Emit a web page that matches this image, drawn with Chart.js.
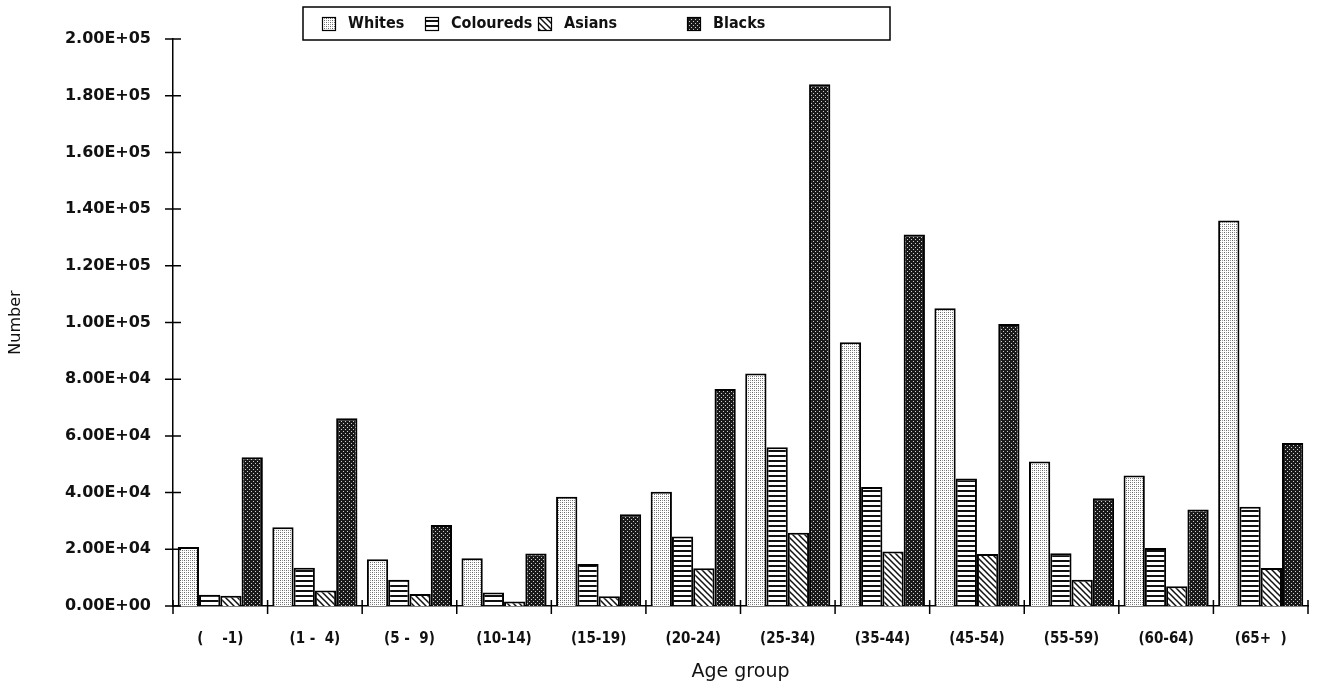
<!DOCTYPE html>
<html>
<head>
<meta charset="utf-8">
<script src="https://cdn.jsdelivr.net/npm/chart.js@4/dist/chart.umd.min.js"></script>
<style>
  body { margin: 0; background: #fff; }
  canvas { display: block; }
</style>
</head>
<body>
<canvas id="chart" width="1317" height="689"></canvas>
<script>
const ageGroups = ['(    -1)', '(1 -  4)', '(5 -  9)', '(10-14)', '(15-19)', '(20-24)', '(25-34)', '(35-44)', '(45-54)', '(55-59)', '(60-64)', '(65+  )'];
const whites    = [20800, 27800, 16500, 16800, 38500, 40300, 82000, 93000, 105000, 51000, 46000, 136000];
const coloureds = [4000, 13500, 9300, 4800, 14800, 24500, 56000, 42000, 45000, 18600, 20500, 35000];
const asians    = [3600, 5500, 4200, 1600, 3400, 13300, 25800, 19200, 18300, 9300, 7000, 13400];
const blacks    = [52500, 66200, 28600, 18500, 32400, 76500, 184000, 131000, 99500, 38000, 34000, 57500];
const yMax = 200000;
const yStep = 20000;

const ctx = document.getElementById('chart').getContext('2d');
const fontFamily = '"DejaVu Sans", sans-serif';
const condFamily = '"DejaVu Sans Condensed", "DejaVu Sans", sans-serif';

// fill patterns that imitate the old black & white hatching
const makePattern = (size, draw) => {
    const c = document.createElement('canvas');
    c.width = size;
    c.height = size;
    const g = c.getContext('2d');
    draw(g, size);
    return ctx.createPattern(c, 'repeat');
};

const dotsLight = makePattern(4, (g, s) => {
    g.fillStyle = '#fff';
    g.fillRect(0, 0, s, s);
    g.fillStyle = '#666';
    g.fillRect(0, 0, 1, 1);
    g.fillRect(2, 2, 1, 1);
    g.fillStyle = '#999';
    g.fillRect(2, 0, 1, 1);
    g.fillRect(0, 2, 1, 1);
});
const hLines = makePattern(5, (g, s) => {
    g.fillStyle = '#fff';
    g.fillRect(0, 0, s, s);
    g.fillStyle = '#111';
    g.fillRect(0, 0, s, 2);
});
const diagLines = makePattern(6, (g, s) => {
    g.fillStyle = '#fff';
    g.fillRect(0, 0, s, s);
    g.strokeStyle = '#111';
    g.lineWidth = 1.5;
    g.beginPath();
    g.moveTo(-1, -1); g.lineTo(s + 1, s + 1);
    g.moveTo(-1, s - 1); g.lineTo(1, s + 1);
    g.moveTo(s - 1, -1); g.lineTo(s + 1, 1);
    g.stroke();
});
const dotsDark = makePattern(4, (g, s) => {
    g.fillStyle = '#1a1a1a';
    g.fillRect(0, 0, s, s);
    g.fillStyle = '#cfcfcf';
    g.fillRect(1, 1, 1, 1);
    g.fillRect(3, 3, 1, 1);
});

const sci = v => {
    const [m, e] = Number(v).toExponential(2).split('e');
    const n = parseInt(e, 10);
    return m + 'E' + (n < 0 ? '-' : '+') + String(Math.abs(n)).padStart(2, '0');
};

const crossTicks = {
    id: 'crossTicks',
    afterDraw(chart) {
        const { ctx: c, chartArea: a, scales: { x, y } } = chart;
        c.save();
        c.strokeStyle = '#000';
        c.lineWidth = 1.5;
        c.beginPath();
        y.ticks.forEach((t, i) => {
            const py = y.getPixelForTick(i);
            c.moveTo(a.left - 8, py);
            c.lineTo(a.left + 8, py);
        });
        c.moveTo(a.left, a.bottom);
        c.lineTo(a.left, a.bottom + 8);
        for (let i = 0; i <= ageGroups.length; i++) {
            let px;
            if (i === 0) px = a.left;
            else if (i === ageGroups.length) px = a.right;
            else px = (x.getPixelForValue(i - 1) + x.getPixelForValue(i)) / 2;
            c.moveTo(px, a.bottom - 6);
            c.lineTo(px, a.bottom + 8);
        }
        c.stroke();
        c.restore();
    }
};

const boxLegend = {
    id: 'boxLegend',
    afterDraw(chart) {
        const c = chart.ctx;
        const itemX = [322, 425, 538, 687];
        c.save();
        c.fillStyle = '#fff';
        c.fillRect(303, 7, 587, 33);
        c.strokeStyle = '#000';
        c.lineWidth = 1.5;
        c.strokeRect(303, 7, 587, 33);
        c.font = 'bold 16px ' + condFamily;
        c.textBaseline = 'middle';
        chart.data.datasets.forEach((ds, i) => {
            const lx = itemX[i];
            c.fillStyle = ds.backgroundColor;
            c.fillRect(lx, 17, 13, 13);
            c.lineWidth = 1.2;
            c.strokeRect(lx + 0.5, 17.5, 13, 13);
            c.fillStyle = '#111';
            c.fillText(ds.label, lx + 26, 24);
        });
        c.restore();
    }
};

new Chart(ctx, {
    type: 'bar',
    data: {
        labels: ageGroups,
        datasets: [
            { label: 'Whites', data: whites, backgroundColor: dotsLight },
            { label: 'Coloureds', data: coloureds, backgroundColor: hLines },
            { label: 'Asians', data: asians, backgroundColor: diagLines },
            { label: 'Blacks', data: blacks, backgroundColor: dotsDark }
        ]
    },
    options: {
        responsive: false,
        animation: false,
        layout: { padding: { top: 39, right: 9, left: 0, bottom: 0 } },
        datasets: {
            bar: { borderColor: '#000', borderWidth: 2, categoryPercentage: 0.9, barPercentage: 1.0 }
        },
        plugins: { legend: { display: false }, tooltip: { enabled: false } },
        scales: {
            x: {
                grid: { display: false, drawTicks: false },
                border: { display: true, color: '#000', width: 1.5 },
                ticks: { color: '#111', padding: 24, maxRotation: 0, autoSkip: false, font: { family: condFamily, size: 15, weight: 'bold' } },
                title: { display: true, text: 'Age group', color: '#111', font: { family: fontFamily, size: 19 }, padding: { top: 0, bottom: 6 } },
                afterFit: s => { s.height = 83; }
            },
            y: {
                min: 0,
                max: yMax,
                grid: { display: false, drawTicks: false },
                border: { display: true, color: '#000', width: 1.5 },
                ticks: { stepSize: yStep, color: '#111', padding: 22, callback: v => sci(v), font: { family: fontFamily, size: 16, weight: 'bold' } },
                title: { display: true, text: 'Number', color: '#111', font: { family: fontFamily, size: 16 }, padding: { top: 6, bottom: 0 } },
                afterFit: s => { s.width = 173; }
            }
        }
    },
    plugins: [crossTicks, boxLegend]
});
</script>
</body>
</html>
